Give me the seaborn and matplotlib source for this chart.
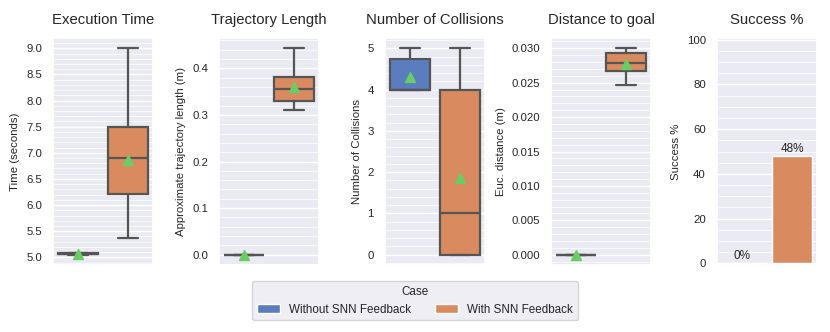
import numpy as np
import pandas as pd
import matplotlib
matplotlib.use("Agg")
import matplotlib.pyplot as plt
from matplotlib.ticker import AutoMinorLocator
import seaborn as sns

cases = ["Without SNN Feedback", "With SNN Feedback"]

# Sample values (per case)
exec_without = [5.05, 5.06, 5.07, 5.08, 5.09]
exec_with = [5.37, 5.6, 6.22, 6.3, 6.9, 7.0, 7.5, 7.9, 9.0]
traj_without = [0.0, 0.0, 0.0, 0.0, 0.0]
traj_with = [0.31, 0.32, 0.329, 0.34, 0.356, 0.361, 0.382, 0.39, 0.443]
coll_without = [4, 4, 4, 4, 4, 4, 4, 5, 5, 5]
coll_with = [0, 0, 0, 0, 0, 1, 1, 1, 1, 2, 4, 4, 4, 5, 5]
dist_without = [0.0, 0.0, 0.0, 0.0, 0.0]
dist_with = [0.0246, 0.026, 0.0267, 0.0272, 0.0278, 0.0285, 0.0293, 0.0296, 0.030]
success = [0, 48]

titles = ["Execution Time", "Trajectory Length", "Number of Collisions",
          "Distance to goal", "Success %"]
ylabels = ["Time (seconds)", "Approximate trajectory length (m)",
           "Number of Collisions", "Euc. distance (m)", "Success %"]

sns.set_theme(style="darkgrid", palette="muted")
plt.rcParams["font.family"] = ["Liberation Sans", "DejaVu Sans"]

def make_df(a, b):
    return pd.DataFrame({"Case": [cases[0]] * len(a) + [cases[1]] * len(b),
                         "Value": list(a) + list(b)})

fig, axes = plt.subplots(1, 5, figsize=(8.3, 3.32), dpi=100)
fig.subplots_adjust(left=0.0639, right=0.9843, top=0.8855, bottom=0.2018, wspace=0.66)

pairs = [(exec_without, exec_with), (traj_without, traj_with),
         (coll_without, coll_with), (dist_without, dist_with)]

for i, (a, b) in enumerate(pairs):
    ax = axes[i]
    df = make_df(a, b)
    sns.boxplot(data=df, x="Case", y="Value", hue="Case", order=cases,
                hue_order=cases, showmeans=True, ax=ax, legend=False,
                linewidth=1.6, linecolor="#555555",
                meanprops=dict(marker="^", markerfacecolor="#6ACC64",
                               markeredgecolor="#6ACC64", markersize=6.5))

ax = axes[4]
sdf = pd.DataFrame({"Case": cases, "Value": success})
sns.barplot(data=sdf, x="Case", y="Value", hue="Case", order=cases,
            hue_order=cases, ax=ax, legend=True)
for c in ax.containers:
    ax.bar_label(c, fmt="%.0f%%", fontsize=8.5, padding=1)
ax.set_ylim(-0.7, 100.7)
handles, labels = ax.get_legend_handles_labels()
ax.get_legend().remove()

for i, ax in enumerate(axes):
    ax.set_title(titles[i], fontsize=10.7, pad=10)
    ax.set_ylabel(ylabels[i], fontsize=8.2)
    ax.set_xlabel("")
    ax.set_xticks([])
    ax.tick_params(axis="y", labelsize=8.2, pad=2)
    ax.yaxis.set_minor_locator(AutoMinorLocator())
    ax.grid(which="minor", axis="y", color="white", linewidth=0.5)
    ax.grid(which="major", axis="y", color="white", linewidth=1.0)

fig.legend(handles, labels, title="Case", ncol=2, loc="lower center",
           bbox_to_anchor=(0.5, 0.018), fontsize=8.4, title_fontsize=8.4,
           frameon=True)

fig.savefig("out.png", dpi=100)
